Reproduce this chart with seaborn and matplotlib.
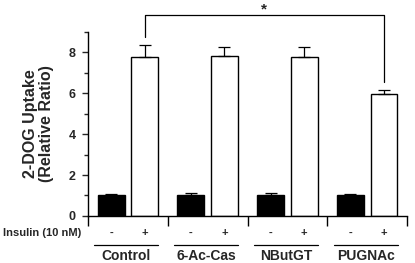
import pandas as pd
import matplotlib.pyplot as plt
import matplotlib.transforms as mtransforms
import seaborn as sns
import numpy as np

# values
groups = ['Control', '6-Ac-Cas', 'NButGT', 'PUGNAc']
insulin = ['-', '+']
basal = [1.02, 1.02, 1.04, 1.02]
basal_err = [0.07, 0.09, 0.06, 0.03]
stim = [7.77, 7.82, 7.76, 5.95]
stim_err = [0.60, 0.42, 0.52, 0.21]

rows = []
for g, b, be, s, se in zip(groups, basal, basal_err, stim, stim_err):
    rows.append({'group': g, 'insulin': '-', 'value': b, 'err': be})
    rows.append({'group': g, 'insulin': '+', 'value': s, 'err': se})
df = pd.DataFrame(rows)

sns.set_style('ticks')
plt.rcParams['font.family'] = ['Liberation Sans', 'DejaVu Sans']
plt.rcParams['font.weight'] = 'bold'

fig = plt.figure(figsize=(4.15, 2.63), dpi=100)
ax = fig.add_axes([0.212, 0.179, 0.769, 0.700])

sns.barplot(data=df, x='group', y='value', hue='insulin', order=groups, hue_order=insulin,
            palette={'-': 'black', '+': 'white'}, edgecolor='black', linewidth=1,
            width=0.84, gap=0.2, errorbar=None, legend=False, ax=ax)

# match bars to rows by position
bars = sorted(ax.patches, key=lambda p: p.get_x())
centers = [p.get_x() + p.get_width() / 2 for p in bars]
df['x'] = centers

ax.errorbar(df['x'], df['value'], yerr=[np.zeros(len(df)), df['err']], fmt='none',
            ecolor='black', elinewidth=0.9, capsize=4.5, capthick=0.9)

ax.set_xlim(-0.5, 3.5)
ax.set_ylim(0, 9)
ax.set_xticks([-0.5, 0.5, 1.5, 2.5, 3.5])
ax.set_xticklabels([])
ax.tick_params(axis='x', direction='out', length=7, width=1, color='black')
ax.set_yticks([0, 2, 4, 6, 8])
ax.set_yticks([1, 3, 5, 7, 9], minor=True)
ax.tick_params(axis='y', which='major', length=4, width=1, labelsize=9, pad=5)
ax.tick_params(axis='y', which='minor', length=3, width=1)
for lab in ax.get_yticklabels():
    lab.set_fontweight('bold')
ax.set_xlabel('')
ax.set_ylabel('2-DOG Uptake\n(Relative Ratio)', fontsize=11.5, fontweight='bold',
              labelpad=10, linespacing=1.15)
sns.despine(ax=ax)
for s in ['left', 'bottom']:
    ax.spines[s].set_linewidth(1)
    ax.spines[s].set_color('black')

trans = mtransforms.blended_transform_factory(ax.transData, ax.transAxes)
for x, ins in zip(df['x'], df['insulin']):
    ax.text(x, -0.092, ins, transform=trans, ha='center', va='center', fontsize=8, fontweight='bold')
ax.text(-0.58, -0.092, 'Insulin (10 nM)', transform=trans, ha='right', va='center',
        fontsize=8, fontweight='bold')
for i, g in enumerate(groups):
    ax.plot([i - 0.42, i + 0.38], [-0.158, -0.158], transform=trans, color='black',
            lw=0.9, clip_on=False)
    ax.text(i - 0.02, -0.215, g, transform=trans, ha='center', va='center',
            fontsize=10, fontweight='bold')

# significance bracket
xl, xr = centers[1], centers[7]
ax.plot([xl, xl, xr, xr], [8.73, 9.82, 9.82, 6.54], color='black', lw=0.9, clip_on=False)
ax.text((xl + xr) / 2, 10.1, '*', ha='center', va='center', fontsize=11, fontweight='bold')

fig.savefig('out.png', dpi=100)
